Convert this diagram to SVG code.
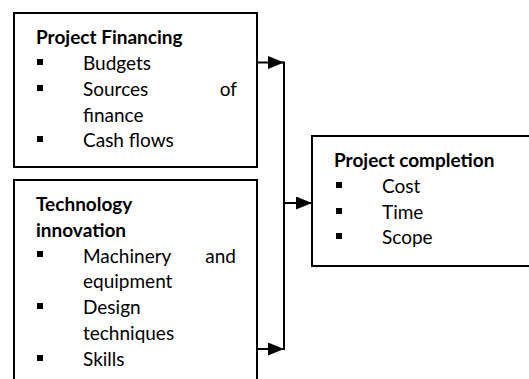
<svg xmlns="http://www.w3.org/2000/svg" width="529" height="379" viewBox="0 0 529 379">
  <defs>
    <style>
      .box { fill: #ffffff; stroke: #000000; stroke-width: 2; }
      .wire { fill: none; stroke: #000000; stroke-width: 2; }
      .title { font-family: Lato, "Liberation Sans", sans-serif; font-size: 19px; font-weight: bold; fill: #000000; }
      .item { font-family: Lato, "Liberation Sans", sans-serif; font-size: 19px; fill: #000000; }
      .bullet { fill: #000000; }
    </style>
    <marker id="arrow" markerWidth="16" markerHeight="13" refX="16" refY="6.5" orient="auto" markerUnits="userSpaceOnUse">
      <path d="M0,0 L16,6.5 L0,13 Z" fill="#000000"/>
    </marker>
  </defs>

  <rect width="529" height="379" fill="#ffffff"/>

  <!-- Project Financing -->
  <g id="financing">
    <rect class="box" x="14" y="13" width="243" height="154"/>
    <text class="title" x="36" y="44">Project Financing</text>
    <rect class="bullet" x="37" y="59" width="6" height="6"/>
    <text class="item" x="83" y="70">Budgets</text>
    <rect class="bullet" x="37" y="85" width="6" height="6"/>
    <text class="item" x="83" y="96">Sources</text>
    <text class="item" x="237" y="96" text-anchor="end">of</text>
    <text class="item" x="83" y="121.5">finance</text>
    <rect class="bullet" x="37" y="136" width="6" height="6"/>
    <text class="item" x="83" y="147">Cash flows</text>
  </g>

  <!-- Technology innovation -->
  <g id="technology">
    <rect class="box" x="14" y="180" width="243" height="210"/>
    <text class="title" x="36" y="211">Technology</text>
    <text class="title" x="36" y="236.5">innovation</text>
    <rect class="bullet" x="37" y="251" width="6" height="6"/>
    <text class="item" x="83" y="262.5">Machinery</text>
    <text class="item" x="236" y="262.5" text-anchor="end">and</text>
    <text class="item" x="83" y="288">equipment</text>
    <rect class="bullet" x="37" y="303" width="6" height="6"/>
    <text class="item" x="83" y="313.5">Design</text>
    <text class="item" x="83" y="340">techniques</text>
    <rect class="bullet" x="37" y="355" width="6" height="6"/>
    <text class="item" x="83" y="366">Skills</text>
  </g>

  <!-- Project completion -->
  <g id="completion">
    <rect class="box" x="312" y="136" width="230" height="130"/>
    <text class="title" x="334" y="167">Project completion</text>
    <rect class="bullet" x="336" y="182" width="6" height="6"/>
    <text class="item" x="382" y="193">Cost</text>
    <rect class="bullet" x="336" y="208" width="6" height="6"/>
    <text class="item" x="382" y="218.5">Time</text>
    <rect class="bullet" x="336" y="233" width="6" height="6"/>
    <text class="item" x="382" y="244">Scope</text>
  </g>

  <!-- Connectors -->
  <g id="connectors">
    <line class="wire" x1="257" y1="62.5" x2="284" y2="62.5" marker-end="url(#arrow)"/>
    <line class="wire" x1="257" y1="349" x2="284" y2="349" marker-end="url(#arrow)"/>
    <line class="wire" x1="284" y1="61.5" x2="284" y2="350"/>
    <line class="wire" x1="284" y1="203" x2="312" y2="203" marker-end="url(#arrow)"/>
  </g>
</svg>
